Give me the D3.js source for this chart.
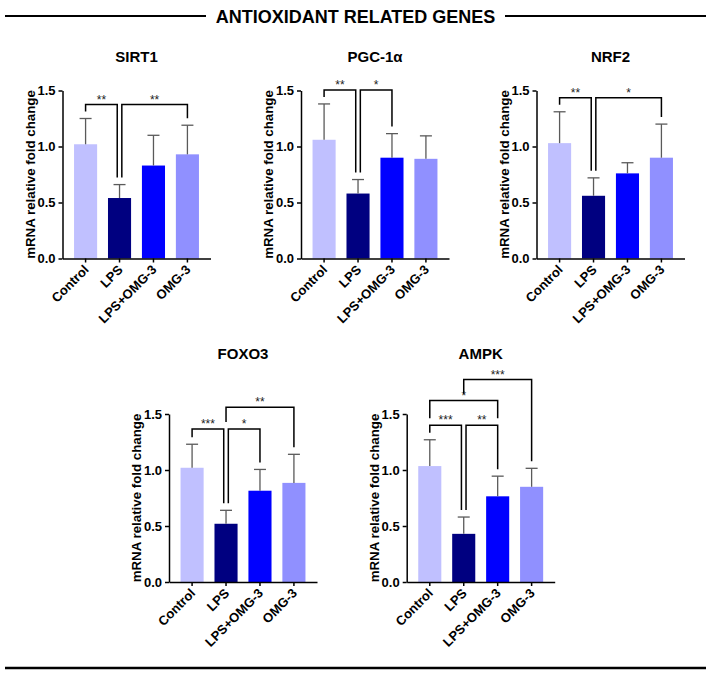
<!DOCTYPE html>
<html>
<head>
<meta charset="utf-8">
<script src="https://cdn.jsdelivr.net/npm/d3@7"></script>
<style>
  html, body { margin: 0; padding: 0; background: #fff; }
  svg { display: block; font-family: "Liberation Sans", Arial, Helvetica, sans-serif; }
</style>
</head>
<body>
<script>
// ---------------- DATA ----------------
const categories = ["Control", "LPS", "LPS+OMG-3", "OMG-3"];
const genes = ["SIRT1", "PGC-1α", "NRF2", "FOXO3", "AMPK"];
const yTicks = [0, 0.5, 1.0, 1.5];

const sirt1Mean = [1.02, 0.54, 0.83, 0.93];
const sirt1SD   = [0.23, 0.12, 0.27, 0.26];
const pgcMean   = [1.06, 0.58, 0.90, 0.89];
const pgcSD     = [0.32, 0.125, 0.215, 0.205];
const nrf2Mean  = [1.03, 0.56, 0.76, 0.90];
const nrf2SD    = [0.28, 0.16, 0.095, 0.30];
const foxo3Mean = [1.02, 0.52, 0.815, 0.885];
const foxo3SD   = [0.21, 0.12, 0.19, 0.255];
const ampkMean  = [1.035, 0.43, 0.765, 0.85];
const ampkSD    = [0.235, 0.15, 0.18, 0.165];

// significance brackets: [from index, to index, level (fold change), label]
const sirt1Sig = [[0, 1, 1.375, "**"], [1, 3, 1.375, "**"]];
const pgcSig   = [[0, 1, 1.505, "**"], [1, 2, 1.505, "*"]];
const nrf2Sig  = [[0, 1, 1.435, "**"], [1, 3, 1.435, "*"]];
const foxo3Sig = [[0, 1, 1.365, "***"], [1, 2, 1.365, "*"], [1, 3, 1.56, "**"]];
const ampkSig  = [[0, 1, 1.40, "***"], [1, 2, 1.40, "**"], [0, 2, 1.62, "*"], [1, 3, 1.807, "***"]];

const mainTitle = "ANTIOXIDANT RELATED GENES";
const yLabel = "mRNA relative fold change";

// ---------------- STYLE / LAYOUT ----------------
const barColors = ["#c0c0ff", "#000080", "#0000ff", "#9090ff"];
const W = 148, H = 168;
const panels = [
  { gene: genes[0], mean: sirt1Mean, sd: sirt1SD, sig: sirt1Sig, x: 62.5, y: 90.5, titleY: 62 },
  { gene: genes[1], mean: pgcMean,   sd: pgcSD,   sig: pgcSig,   x: 301,  y: 90.5, titleY: 62 },
  { gene: genes[2], mean: nrf2Mean,  sd: nrf2SD,  sig: nrf2Sig,  x: 536.5, y: 90.5, titleY: 62 },
  { gene: genes[3], mean: foxo3Mean, sd: foxo3SD, sig: foxo3Sig, x: 169,  y: 414, titleY: 358.5 },
  { gene: genes[4], mean: ampkMean,  sd: ampkSD,  sig: ampkSig,  x: 406.7, y: 414, titleY: 358.5 }
];

const svg = d3.select("body").append("svg")
  .attr("width", 710).attr("height", 675);

// main title with rules
svg.append("line").attr("x1", 5).attr("x2", 206).attr("y1", 16).attr("y2", 16)
  .attr("stroke", "#000").attr("stroke-width", 2);
svg.append("line").attr("x1", 505).attr("x2", 706).attr("y1", 16).attr("y2", 16)
  .attr("stroke", "#000").attr("stroke-width", 2);
svg.append("text").attr("x", 355.5).attr("y", 23.3)
  .attr("text-anchor", "middle").attr("font-weight", "bold").attr("font-size", 18)
  .text(mainTitle);
svg.append("line").attr("x1", 5).attr("x2", 706).attr("y1", 668).attr("y2", 668)
  .attr("stroke", "#000").attr("stroke-width", 2.5);

panels.forEach(p => {
  const g = svg.append("g").attr("transform", `translate(${p.x},${p.y})`);
  const x = d3.scaleBand().domain(categories).range([0, W])
    .paddingInner(0.32).paddingOuter(0.34);
  const y = d3.scaleLinear().domain([0, 1.5]).range([H, 0]);
  const cx = i => x(categories[i]) + x.bandwidth() / 2;

  // title
  svg.append("text").attr("x", p.x + W / 2).attr("y", p.titleY)
    .attr("text-anchor", "middle").attr("font-weight", "bold").attr("font-size", 15)
    .text(p.gene);

  // bars
  g.selectAll("rect.bar").data(categories).enter().append("rect")
    .attr("class", "bar")
    .attr("x", c => x(c))
    .attr("y", (c, i) => y(p.mean[i]))
    .attr("width", x.bandwidth())
    .attr("height", (c, i) => H - y(p.mean[i]))
    .attr("fill", (c, i) => barColors[i]);

  // error bars (upper only)
  const eg = g.selectAll("g.err").data(categories).enter().append("g").attr("class", "err");
  eg.append("line")
    .attr("x1", (c, i) => cx(i)).attr("x2", (c, i) => cx(i))
    .attr("y1", (c, i) => y(p.mean[i])).attr("y2", (c, i) => y(p.mean[i] + p.sd[i]))
    .attr("stroke", "#5a5a5a").attr("stroke-width", 1.3);
  eg.append("line")
    .attr("x1", (c, i) => cx(i) - 6).attr("x2", (c, i) => cx(i) + 6)
    .attr("y1", (c, i) => y(p.mean[i] + p.sd[i])).attr("y2", (c, i) => y(p.mean[i] + p.sd[i]))
    .attr("stroke", "#5a5a5a").attr("stroke-width", 1.3);

  // axes
  const ya = g.append("g").call(d3.axisLeft(y).tickValues(yTicks)
    .tickFormat(d3.format(".1f")).tickSize(4).tickSizeOuter(0).tickPadding(3));
  const xa = g.append("g").attr("transform", `translate(0,${H})`)
    .call(d3.axisBottom(x).tickSize(4).tickSizeOuter(0));
  [ya, xa].forEach(a => {
    a.attr("font-family", null);
    a.select(".domain").attr("stroke", "#000").attr("stroke-width", 1.5);
    a.selectAll(".tick line").attr("stroke", "#000").attr("stroke-width", 1.5);
    a.selectAll("text").attr("fill", "#000").attr("font-weight", "bold")
      .attr("font-size", 13);
  });
  xa.selectAll(".tick text")
    .attr("text-anchor", "end").attr("x", 0).attr("y", 0).attr("dy", null)
    .attr("transform", "translate(4,12) rotate(-45)");

  // y label
  g.append("text")
    .attr("transform", `translate(-28,${H / 2}) rotate(-90)`)
    .attr("text-anchor", "middle").attr("font-weight", "bold").attr("font-size", 13.3)
    .text(yLabel);

  // significance brackets
  const gap = 7, off = 2.3;
  p.sig.forEach(b => {
    const [a, c, lvl, lab] = b;
    const legEnd = i => {
      let v = p.mean[i] + p.sd[i];
      p.sig.forEach(o => {
        if (o !== b && o[2] < lvl && o[0] <= i && o[1] >= i) v = Math.max(v, o[2]);
      });
      return y(v) - gap;
    };
    const leftShift = p.sig.some(o => o !== b && o[2] === lvl && o[1] === a) ? off : 0;
    const rightShift = p.sig.some(o => o !== b && o[2] === lvl && o[0] === c) ? -off : 0;
    const x1 = cx(a) + leftShift, x2 = cx(c) + rightShift, yl = y(lvl);
    g.append("path")
      .attr("d", `M${x1},${legEnd(a)}V${yl}H${x2}V${legEnd(c)}`)
      .attr("fill", "none").attr("stroke", "#000").attr("stroke-width", 1.5);
    g.append("text").attr("x", (x1 + x2) / 2).attr("y", yl - 1)
      .attr("text-anchor", "middle").attr("font-size", 12).attr("fill", "#222")
      .text(lab);
  });
});
</script>
</body>
</html>
